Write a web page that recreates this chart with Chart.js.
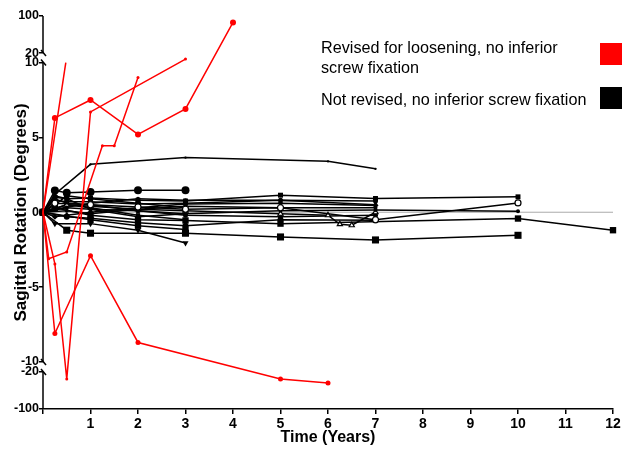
<!DOCTYPE html>
<html>
<head>
<title>Sagittal Rotation</title>
<script src="https://cdn.jsdelivr.net/npm/chart.js"></script>
<style>
    body { margin: 0; background: #fff; }
    .chart-box { position: relative; width: 623px; height: 451px; }
</style>
</head>
<body>
<div class="chart-box"><canvas id="rotChart" width="623" height="451"></canvas></div>
<script>
// x = years, y = sagittal rotation (degrees)
const xTicks = [0, 1, 2, 3, 4, 5, 6, 7, 8, 9, 10, 11, 12];
const yTicks = [-100, -20, -10, -5, 0, 5, 10, 20, 100];

// revised for loosening (red)
const red1 = [[0, 0], [0.25, 6.3], [1, 7.5], [2, 5.2], [3, 6.9], [4, 86]];
const red2 = [[0, 0], [0.25, -3.45], [0.5, -35], [1, 6.7], [3, 13.7]];
const red3 = [[0, 0], [0.12, -3.1], [0.5, -2.65], [1.25, 4.45], [1.5, 4.45], [2, 9.0]];
const red4 = [[0, 0], [0.25, -8.1], [1, -2.9], [2, -8.7], [5, -35], [6, -44]];
const red5 = [[0, 0], [0.48, 10]];

// not revised (black)
const blk1 = [[0, 0], [0.25, 1.2], [1, 3.2], [3, 3.65], [6, 3.4], [7, 2.9]];
const blk2 = [[0, 0], [0.25, 1.45], [0.5, 1.3], [1, 1.35], [2, 1.47], [3, 1.47]];
const blk3 = [[0, 0], [0.5, -1.2], [1, -1.4], [3, -1.4], [5, -1.65], [7, -1.85], [10, -1.54]];
const blk4 = [[0, 0], [0.25, -0.76], [1, -0.76], [2, -1.2], [3, -2.05]];
const blk5 = [[0, 0], [0.25, 1.0], [0.5, 0.9], [1, 0.95], [2, 0.8], [3, 0.75], [5, 1.14], [7, 0.92], [10, 1.03]];
const blk6 = [[0, 0], [0.25, 0.6], [1, 0.5], [2, 0.35], [3, 0.2], [5, 0.3], [7, -0.5], [10, 0.62]];
const blk7 = [[0, 0], [0.5, 0.3], [1, 0.2], [2, 0.1], [3, -0.1], [5, 0.1], [7, 0.15], [10, 0.07]];
const blk8 = [[0, 0], [0.25, 0.3], [1, -0.2], [2, -0.5], [3, -0.55], [5, -0.76], [10, -0.42], [12, -1.2]];
const blk9 = [[0, 0], [0.5, 0.5], [1, 0.4], [2, 0.2], [3, 0.1], [5, -0.1], [6, -0.2], [6.25, -0.8], [6.5, -0.87], [7, 0.0]];
const blk10 = [[0, 0], [0.25, 0.8], [0.5, 0.7], [1, 0.7], [2, 0.55], [3, 0.6], [5, 0.8], [7, 0.75]];
const blk11 = [[0, 0], [0.25, 0.5], [0.5, 1.1], [1, 0.9], [2, 0.6], [3, 0.3]];
const blk12 = [[0, 0], [0.5, -0.3], [1, -0.4], [2, -0.7], [3, -0.9], [5, -0.5], [7, -0.54]];
const blk13 = [[0, 0], [0.25, 1.1], [0.5, 0.9], [1, 0.2], [2, -0.3], [3, -0.1]];
const blk14 = [[0, 0], [0.5, 0.1], [1, -0.1], [2, 0.2], [3, 0.4], [5, 0.3], [7, 0.3]];
const blk15 = [[0, 0], [0.25, 0.2], [1, 0.6], [2, 0.9], [3, 0.8], [5, 0.8], [7, 0.5]];
const blk16 = [[0, 0], [0.5, 0.5], [1, 0.3], [2, -0.2], [3, -0.5]];
const blk17 = [[0, 0], [1, -0.5], [2, -0.9], [3, -1.15]];
const blk18 = [[0, 0], [0.25, -0.3], [0.5, -0.2], [1, 0.0], [2, 0.3], [3, 0.55], [5, 0.6], [7, 0.45]];
const blk19 = [[0, 0], [0.25, 0.9], [0.5, 0.6], [1, 0.5], [2, 0.1], [3, -0.2], [5, -0.3], [7, -0.2]];

const redSets = [red1, red2, red3, red4, red5];
const redMarks = [3, 1.5, 1.5, 2.5, 0];

const blkSets = [blk1, blk2, blk3, blk4, blk5, blk6, blk7, blk8, blk9, blk10,
                 blk11, blk12, blk13, blk14, blk15, blk16, blk17, blk18, blk19];
// [pointStyle, radius, rotation, open]
const blkMarks = [
    ['circle', 1.2], ['circle', 4], ['rect', 5], ['triangle', 3.5, 180], ['rect', 3.5],
    ['circle', 3, 0, true], ['circle', 2], ['rect', 4.5], ['triangle', 3, 0, true], ['circle', 2.5],
    ['circle', 3], ['circle', 3], ['rectRot', 3], ['circle', 2], ['circle', 2],
    ['rect', 3], ['rect', 4.5], ['rectRot', 3], ['circle', 2.5]
];

// piecewise y axis: 20..100 squeezed, -10..10 linear, -100..-20 squeezed
function brokenUnits(v) {
    if (v <= -20) return (v + 100) * 37 / 80;
    if (v < -10) return 37 + (v + 20);
    if (v <= 10) return 47 + (v + 10) * 14.95;
    if (v < 20) return 346 + (v - 10) * 0.95;
    return 355.5 + (v - 20) * 37 / 80;
}

class BrokenScale extends Chart.LinearScale {
    getPixelForValue(value) {
        if (value === null || value === undefined || isNaN(value)) return NaN;
        const lo = brokenUnits(this.min), hi = brokenUnits(this.max);
        return this.getPixelForDecimal((brokenUnits(value) - lo) / (hi - lo));
    }
}
BrokenScale.id = 'broken';
Chart.register(BrokenScale);

const datasets = [];
redSets.forEach((d, i) => {
    datasets.push({
        data: d,
        borderColor: '#ff0000',
        backgroundColor: '#ff0000',
        borderWidth: 1.5,
        pointRadius: ctx => ctx.dataIndex === 0 ? 0 : redMarks[i],
        pointBorderWidth: 0,
        clip: false
    });
});
blkSets.forEach((d, i) => {
    const m = blkMarks[i];
    datasets.push({
        data: d,
        borderColor: '#000',
        backgroundColor: m[3] ? '#fff' : '#000',
        borderWidth: 1.5,
        pointStyle: m[0],
        pointRadius: m[1],
        pointRotation: m[2] || 0,
        pointBorderWidth: m[3] ? 1.2 : 0,
        clip: false
    });
});

const zeroLine = {
    id: 'zeroLine',
    beforeDatasetsDraw(chart) {
        const { ctx, scales: { x, y } } = chart;
        const y0 = y.getPixelForValue(0);
        ctx.save();
        ctx.strokeStyle = '#aaa';
        ctx.lineWidth = 1;
        ctx.beginPath();
        ctx.moveTo(x.getPixelForValue(0), y0);
        ctx.lineTo(x.getPixelForValue(12), y0);
        ctx.stroke();

        // y axis line with breaks
        const ax = x.getPixelForValue(0);
        ctx.strokeStyle = '#000';
        ctx.lineWidth = 1.5;
        [[100, 20], [10, -10], [-20, -100]].forEach(seg => {
            ctx.beginPath();
            ctx.moveTo(ax, y.getPixelForValue(seg[0]));
            ctx.lineTo(ax, y.getPixelForValue(seg[1]));
            ctx.stroke();
        });
        [20, 10, -10, -20].forEach(v => {
            const p = y.getPixelForValue(v);
            ctx.beginPath();
            ctx.moveTo(ax - 2, p - 3);
            ctx.lineTo(ax + 3, p + 3);
            ctx.stroke();
        });
        ctx.restore();
    }
};

const boxLegend = {
    id: 'boxLegend',
    afterDraw(chart) {
        const ctx = chart.ctx;
        ctx.save();
        ctx.font = '16.2px "Liberation Sans", Arial, sans-serif';
        ctx.fillStyle = '#000';
        ctx.textBaseline = 'alphabetic';
        ctx.fillText('Revised for loosening, no inferior', 321, 53);
        ctx.fillText('screw fixation', 321, 73);
        ctx.fillText('Not revised, no inferior screw fixation', 321, 104.5);
        ctx.fillStyle = '#ff0000';
        ctx.fillRect(600, 43, 22, 22);
        ctx.fillStyle = '#000';
        ctx.fillRect(600, 87, 22, 22);
        ctx.restore();
    }
};

new Chart(document.getElementById('rotChart'), {
    type: 'line',
    data: { datasets: datasets },
    plugins: [zeroLine, boxLegend],
    options: {
        responsive: false,
        animation: false,
        events: [],
        layout: { padding: { left: 0, right: 10, top: 16, bottom: 0 } },
        plugins: { legend: { display: false }, tooltip: { enabled: false } },
        elements: { line: { tension: 0 } },
        scales: {
            x: {
                type: 'linear',
                min: 0, max: 12,
                afterBuildTicks: s => { s.ticks = xTicks.map(v => ({ value: v })); },
                afterFit: s => { s.height = 42; },
                border: { display: true, color: '#000', width: 1.5 },
                grid: { drawOnChartArea: false, drawTicks: true, tickLength: 5, tickColor: '#000', lineWidth: 1.5 },
                ticks: {
                    autoSkip: false, maxRotation: 0, padding: 2, color: '#000',
                    font: { family: '"Liberation Sans", Arial, sans-serif', size: 14, weight: 'bold' },
                    callback: v => v === 0 ? '' : String(v)
                },
                title: {
                    display: true, text: 'Time (Years)', color: '#000',
                    font: { family: '"Liberation Sans", Arial, sans-serif', size: 16, weight: 'bold' },
                    padding: { top: 0, bottom: 4 }
                }
            },
            y: {
                type: 'broken',
                min: -100, max: 100,
                afterBuildTicks: s => { s.ticks = yTicks.map(v => ({ value: v })); },
                afterFit: s => { s.width = 43; },
                border: { display: false },
                grid: { drawOnChartArea: false, drawTicks: true, tickLength: 4, tickColor: '#000', lineWidth: 1.5 },
                ticks: {
                    autoSkip: false, padding: 0, color: '#000',
                    font: { family: '"Liberation Sans", Arial, sans-serif', size: 12.5, weight: 'bold' },
                    callback: v => String(v)
                },
                title: {
                    display: true, text: 'Sagittal Rotation (Degrees)', color: '#000',
                    font: { family: '"Liberation Sans", Arial, sans-serif', size: 17, weight: 'bold' },
                    padding: { top: 11, bottom: 0 }
                }
            }
        }
    }
});
</script>
</body>
</html>
